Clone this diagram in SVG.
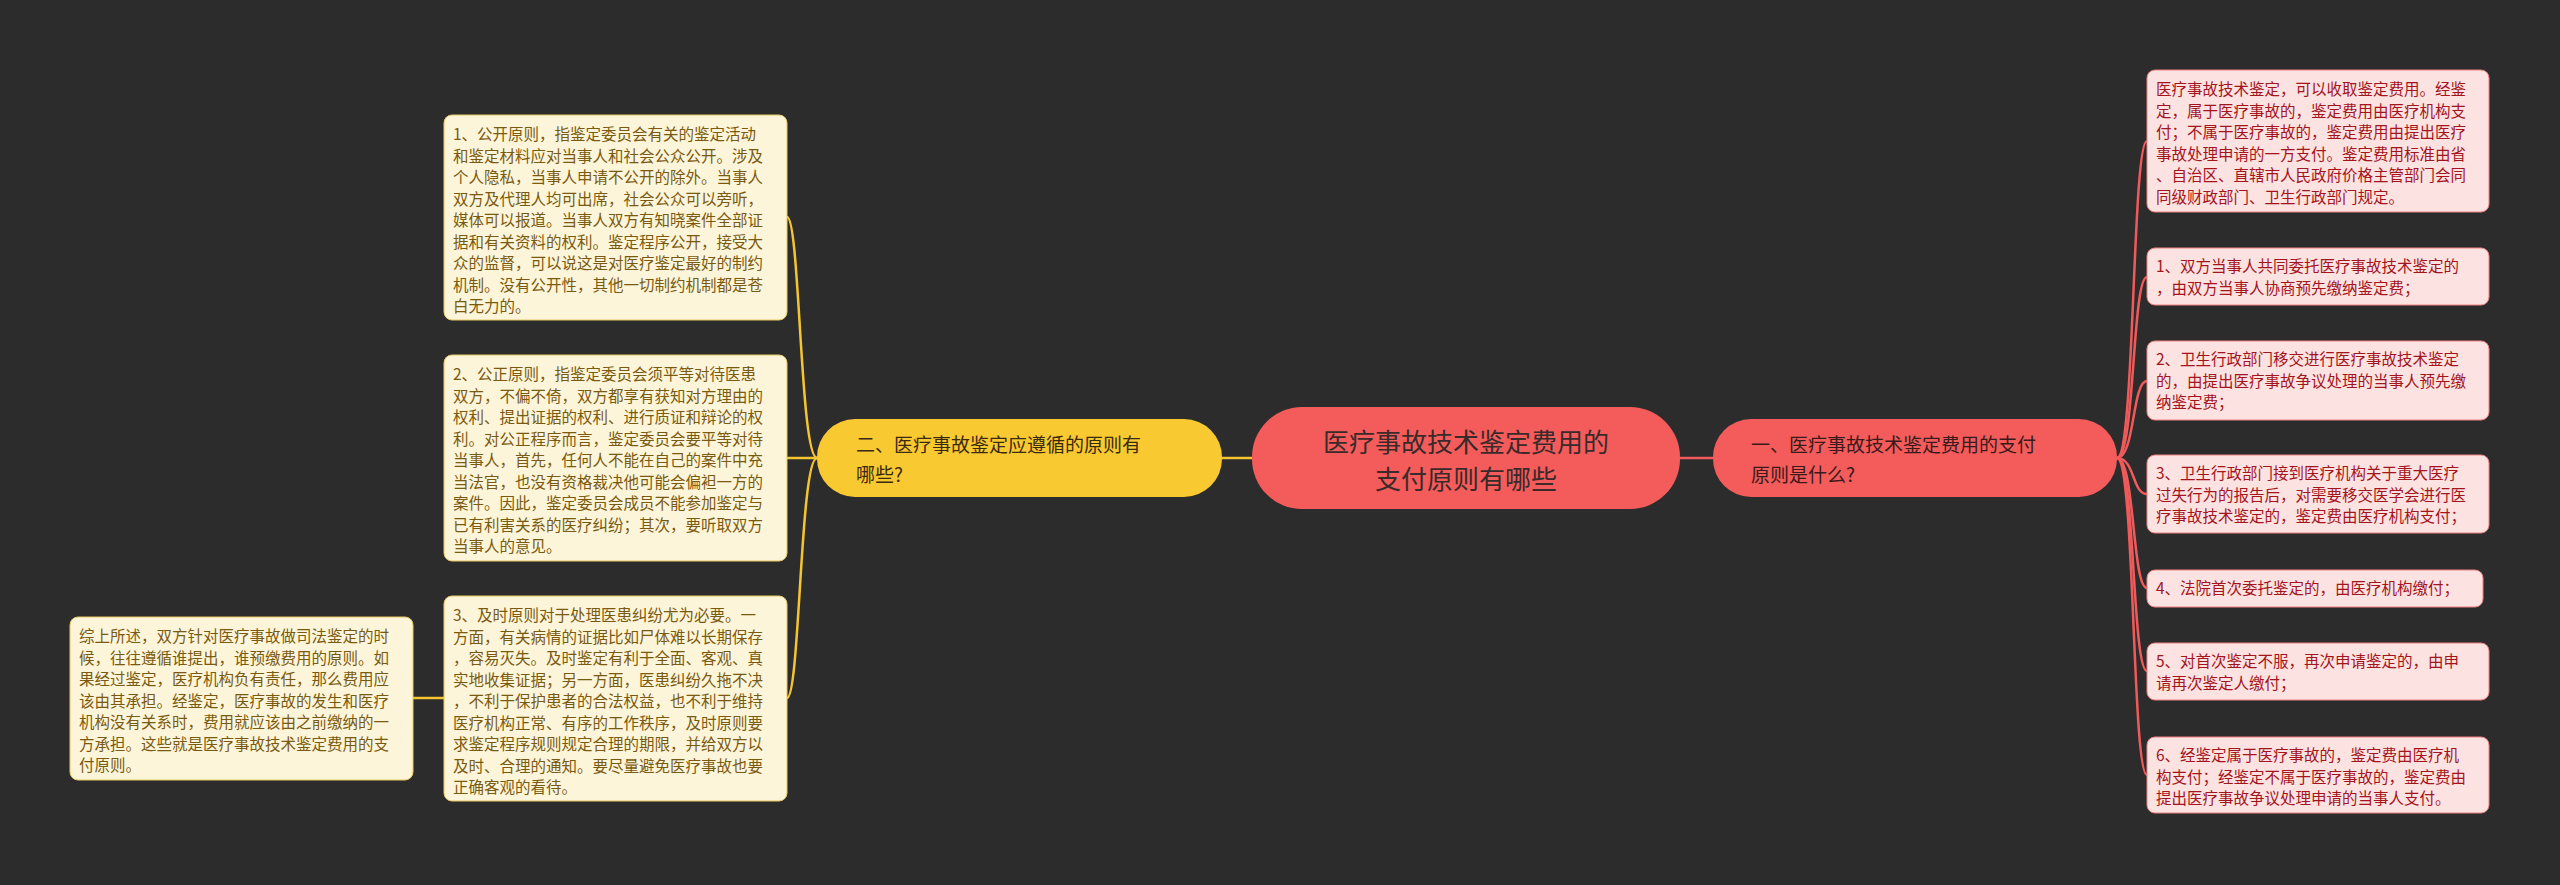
<svg xmlns="http://www.w3.org/2000/svg" width="2560" height="885" viewBox="0 0 2560 885">
<style>
.t{font-family:"Noto Sans CJK SC","Liberation Sans",sans-serif}
.yb{fill:#fdf5d9;stroke:#e8c860;stroke-width:1}
.pb{fill:#fde2e2;stroke:#f08080;stroke-width:1}
.yt{font-size:15.5px;fill:#7a5a10}
.pt{font-size:15.5px;fill:#a3141c}
.yl{fill:none;stroke:#f5c531;stroke-width:2.5}
.rl{fill:none;stroke:#f05a5a;stroke-width:2.5}
</style>
<rect width="2560" height="885" fill="#2c2c2c"/>
<g id="connectors">
<path class="yl" d="M1222 458H1252"/>
<path class="rl" d="M1680 458H1713"/>
<path class="yl" d="M817 458C800 458 800 217 787 217"/>
<path class="yl" d="M817 458C800 458 800 458 787 458"/>
<path class="yl" d="M817 458C800 458 800 698 787 698"/>
<path class="yl" d="M444 698H413"/>
<path class="rl" d="M2117 458C2135 458 2132 141 2147 141"/>
<path class="rl" d="M2117 458C2135 458 2132 277 2147 277"/>
<path class="rl" d="M2117 458C2135 458 2132 381 2147 381"/>
<path class="rl" d="M2117 458C2135 458 2132 494 2147 494"/>
<path class="rl" d="M2117 458C2135 458 2132 588 2147 588"/>
<path class="rl" d="M2117 458C2135 458 2132 671 2147 671"/>
<path class="rl" d="M2117 458C2135 458 2132 775 2147 775"/>
</g>
<g id="center">
<rect x="1252" y="407" width="428" height="102" rx="50" fill="#f45b5b"/>
<text class="t" x="1466" y="452" font-size="26" fill="#3a2a2a" text-anchor="middle">医疗事故技术鉴定费用的</text>
<text class="t" x="1466" y="489" font-size="26" fill="#3a2a2a" text-anchor="middle">支付原则有哪些</text>
</g>
<g id="b2">
<rect x="817" y="419" width="405" height="78" rx="38" fill="#f9c932"/>
<text class="t" x="856" y="452" font-size="19" fill="#3a2a10">二、医疗事故鉴定应遵循的原则有</text>
<text class="t" x="856" y="482" font-size="19" fill="#3a2a10">哪些?</text>
</g>
<g id="b1">
<rect x="1713" y="419" width="404" height="78" rx="38" fill="#f45b5b"/>
<text class="t" x="1751" y="452" font-size="19" fill="#3a1a1a">一、医疗事故技术鉴定费用的支付</text>
<text class="t" x="1751" y="482" font-size="19" fill="#3a1a1a">原则是什么?</text>
</g>
<g id="L1">
<rect class="yb" x="444" y="115" width="343" height="205" rx="8"/>
<text class="t yt" x="453"><tspan x="453" y="140">1、公开原则，指鉴定委员会有关的鉴定活动</tspan><tspan x="453" y="161.5">和鉴定材料应对当事人和社会公众公开。涉及</tspan><tspan x="453" y="183">个人隐私，当事人申请不公开的除外。当事人</tspan><tspan x="453" y="204.5">双方及代理人均可出席，社会公众可以旁听，</tspan><tspan x="453" y="226">媒体可以报道。当事人双方有知晓案件全部证</tspan><tspan x="453" y="247.5">据和有关资料的权利。鉴定程序公开，接受大</tspan><tspan x="453" y="269">众的监督，可以说这是对医疗鉴定最好的制约</tspan><tspan x="453" y="290.5">机制。没有公开性，其他一切制约机制都是苍</tspan><tspan x="453" y="312">白无力的。</tspan></text>
</g>
<g id="L2">
<rect class="yb" x="444" y="355" width="343" height="206" rx="8"/>
<text class="t yt"><tspan x="453" y="380">2、公正原则，指鉴定委员会须平等对待医患</tspan><tspan x="453" y="401.5">双方，不偏不倚，双方都享有获知对方理由的</tspan><tspan x="453" y="423">权利、提出证据的权利、进行质证和辩论的权</tspan><tspan x="453" y="444.5">利。对公正程序而言，鉴定委员会要平等对待</tspan><tspan x="453" y="466">当事人，首先，任何人不能在自己的案件中充</tspan><tspan x="453" y="487.5">当法官，也没有资格裁决他可能会偏袒一方的</tspan><tspan x="453" y="509">案件。因此，鉴定委员会成员不能参加鉴定与</tspan><tspan x="453" y="530.5">已有利害关系的医疗纠纷；其次，要听取双方</tspan><tspan x="453" y="552">当事人的意见。</tspan></text>
</g>
<g id="L3">
<rect class="yb" x="444" y="596" width="343" height="205" rx="8"/>
<text class="t yt"><tspan x="453" y="621">3、及时原则对于处理医患纠纷尤为必要。一</tspan><tspan x="453" y="642.5">方面，有关病情的证据比如尸体难以长期保存</tspan><tspan x="453" y="664">，容易灭失。及时鉴定有利于全面、客观、真</tspan><tspan x="453" y="685.5">实地收集证据；另一方面，医患纠纷久拖不决</tspan><tspan x="453" y="707">，不利于保护患者的合法权益，也不利于维持</tspan><tspan x="453" y="728.5">医疗机构正常、有序的工作秩序，及时原则要</tspan><tspan x="453" y="750">求鉴定程序规则规定合理的期限，并给双方以</tspan><tspan x="453" y="771.5">及时、合理的通知。要尽量避免医疗事故也要</tspan><tspan x="453" y="793">正确客观的看待。</tspan></text>
</g>
<g id="S">
<rect class="yb" x="70" y="617" width="343" height="163" rx="8"/>
<text class="t yt"><tspan x="79" y="642">综上所述，双方针对医疗事故做司法鉴定的时</tspan><tspan x="79" y="663.5">候，往往遵循谁提出，谁预缴费用的原则。如</tspan><tspan x="79" y="685">果经过鉴定，医疗机构负有责任，那么费用应</tspan><tspan x="79" y="706.5">该由其承担。经鉴定，医疗事故的发生和医疗</tspan><tspan x="79" y="728">机构没有关系时，费用就应该由之前缴纳的一</tspan><tspan x="79" y="749.5">方承担。这些就是医疗事故技术鉴定费用的支</tspan><tspan x="79" y="771">付原则。</tspan></text>
</g>
<g id="R0">
<rect class="pb" x="2147" y="70" width="342" height="142" rx="8"/>
<text class="t pt"><tspan x="2156" y="95">医疗事故技术鉴定，可以收取鉴定费用。经鉴</tspan><tspan x="2156" y="116.5">定，属于医疗事故的，鉴定费用由医疗机构支</tspan><tspan x="2156" y="138">付；不属于医疗事故的，鉴定费用由提出医疗</tspan><tspan x="2156" y="159.5">事故处理申请的一方支付。鉴定费用标准由省</tspan><tspan x="2156" y="181">、自治区、直辖市人民政府价格主管部门会同</tspan><tspan x="2156" y="202.5">同级财政部门、卫生行政部门规定。</tspan></text>
</g>
<g id="R1">
<rect class="pb" x="2147" y="248" width="342" height="57" rx="8"/>
<text class="t pt"><tspan x="2156" y="272">1、双方当事人共同委托医疗事故技术鉴定的</tspan><tspan x="2156" y="293.5">，由双方当事人协商预先缴纳鉴定费；</tspan></text>
</g>
<g id="R2">
<rect class="pb" x="2147" y="341" width="342" height="79" rx="8"/>
<text class="t pt"><tspan x="2156" y="365">2、卫生行政部门移交进行医疗事故技术鉴定</tspan><tspan x="2156" y="386.5">的，由提出医疗事故争议处理的当事人预先缴</tspan><tspan x="2156" y="408">纳鉴定费；</tspan></text>
</g>
<g id="R3">
<rect class="pb" x="2147" y="455" width="342" height="78" rx="8"/>
<text class="t pt"><tspan x="2156" y="479">3、卫生行政部门接到医疗机构关于重大医疗</tspan><tspan x="2156" y="500.5">过失行为的报告后，对需要移交医学会进行医</tspan><tspan x="2156" y="522">疗事故技术鉴定的，鉴定费由医疗机构支付；</tspan></text>
</g>
<g id="R4">
<rect class="pb" x="2147" y="570" width="336" height="37" rx="8"/>
<text class="t pt" x="2156" y="594">4、法院首次委托鉴定的，由医疗机构缴付；</text>
</g>
<g id="R5">
<rect class="pb" x="2147" y="643" width="342" height="57" rx="8"/>
<text class="t pt"><tspan x="2156" y="667">5、对首次鉴定不服，再次申请鉴定的，由申</tspan><tspan x="2156" y="688.5">请再次鉴定人缴付；</tspan></text>
</g>
<g id="R6">
<rect class="pb" x="2147" y="737" width="342" height="76" rx="8"/>
<text class="t pt"><tspan x="2156" y="761">6、经鉴定属于医疗事故的，鉴定费由医疗机</tspan><tspan x="2156" y="782.5">构支付；经鉴定不属于医疗事故的，鉴定费由</tspan><tspan x="2156" y="804">提出医疗事故争议处理申请的当事人支付。</tspan></text>
</g>
</svg>
